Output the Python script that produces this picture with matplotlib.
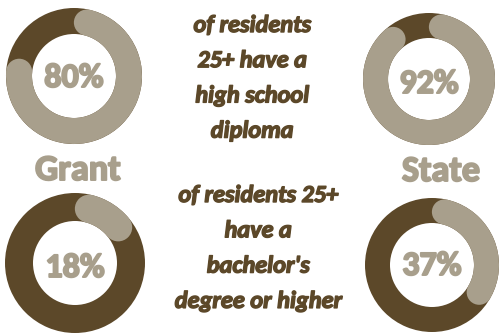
import math
import matplotlib
matplotlib.use("Agg")
import matplotlib.pyplot as plt
import matplotlib.patheffects as pe
from matplotlib.patches import Wedge, Circle
from matplotlib import font_manager as fm

# values (share of residents 25+)
places = ["Grant", "State"]
high_school = [80, 92]
bachelors = [18, 37]
hs_lines = ["of residents", "25+ have a", "high school", "diploma"]
ba_lines = ["of residents 25+", "have a", "bachelor's", "degree or higher"]

DARK = "#5c4829"
LIGHT = "#a89f8c"


def font_file(name, style, weight):
    for f in fm.fontManager.ttflist:
        if f.name == name and f.style == style and f.weight == weight:
            return f.fname
    return None


bold_file = font_file("Carlito", "normal", 700)
bi_file = font_file("Carlito", "italic", 700)
BOLD = fm.FontProperties(fname=bold_file) if bold_file else fm.FontProperties(family="DejaVu Sans", weight="bold")
BOLD_IT = fm.FontProperties(fname=bi_file) if bi_file else fm.FontProperties(family="DejaVu Sans", weight="bold", style="italic")

# extra stroke so the text looks as heavy as in the original
thick_light = [pe.withStroke(linewidth=1.4, foreground=LIGHT)]
thick_dark = [pe.withStroke(linewidth=1.0, foreground=DARK)]

fig = plt.figure(figsize=(5.02, 3.36), dpi=100)
ax = fig.add_axes([0, 0, 1, 1])
ax.set_xlim(0, 502)
ax.set_ylim(336, 0)
ax.axis("off")


def donut(cx, cy, pct, base, r_out=68, r_in=42):
    # dark full ring, light rounded arc for the value (clockwise from top)
    ax.add_patch(Wedge((cx, cy), r_out, 0, 360, width=r_out - r_in, color=DARK, lw=0))
    mid = (r_out + r_in) / 2
    cap = (r_out - r_in) / 2
    d = math.degrees(cap / mid)
    t1 = -90 + d
    t2 = -90 + 360 * pct / 100 - d
    ax.add_patch(Wedge((cx, cy), r_out, t1, t2, width=r_out - r_in, color=LIGHT, lw=0))
    for t in (t1, t2):
        a = math.radians(t)
        ax.add_patch(Circle((cx + mid * math.cos(a), cy + mid * math.sin(a)), cap, color=LIGHT, lw=0))
    ax.text(cx, base, f"{pct}%", ha="center", va="baseline", fontproperties=BOLD,
            fontsize=24.5, color=LIGHT, path_effects=thick_light)


donut(74, 76, high_school[0], 87)
donut(429, 79, high_school[1], 93, r_out=66, r_in=41)
donut(75, 263, bachelors[0], 277, r_out=70)
donut(432, 265, bachelors[1], 275, r_out=67)

ax.text(78, 180, places[0], ha="center", va="baseline", fontproperties=BOLD,
        fontsize=26, color=LIGHT, path_effects=thick_light)
ax.text(441, 181, places[1], ha="center", va="baseline", fontproperties=BOLD,
        fontsize=26, color=LIGHT, path_effects=thick_light)

for i, line in enumerate(hs_lines):
    ax.text(252, 32 + 35.2 * i, line, ha="center", va="baseline", fontproperties=BOLD_IT,
            fontsize=17.5, color=DARK, path_effects=thick_dark)
for i, line in enumerate(ba_lines):
    ax.text(258, 202 + 35.3 * i, line, ha="center", va="baseline", fontproperties=BOLD_IT,
            fontsize=17.5, color=DARK, path_effects=thick_dark)

fig.savefig("out.png", dpi=100)
